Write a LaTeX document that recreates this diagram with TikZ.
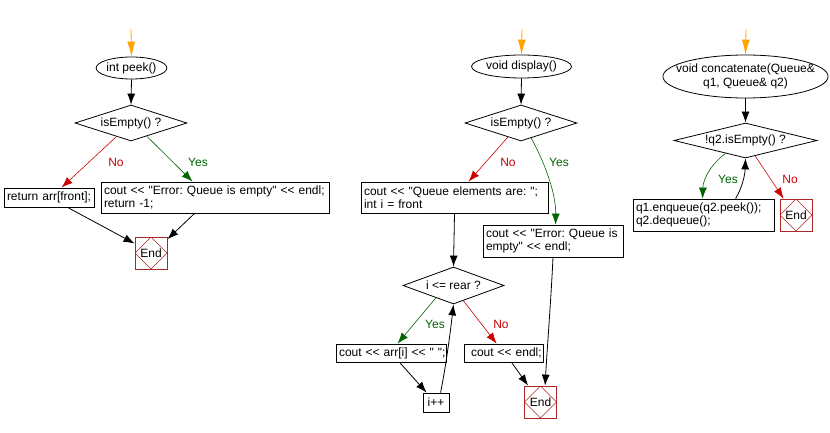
\documentclass[tikz,border=0pt]{standalone}
\usepackage{fontspec}
\setmainfont{Liberation Sans}[Ligatures=TeXOff]
\usetikzlibrary{shapes.geometric,arrows.meta}
\definecolor{flowor}{RGB}{255,165,0}
\definecolor{nored}{RGB}{204,0,0}
\definecolor{yesgreen}{RGB}{0,100,0}
\definecolor{endred}{RGB}{170,40,40}
\tikzset{
  every node/.style={font=\fontsize{12}{13.5}\selectfont\frenchspacing},
  term/.style={ellipse, draw, line width=0.8pt, inner sep=0pt, align=center},
  cond/.style={diamond, draw, line width=0.8pt, inner sep=0pt},
  proc/.style={rectangle, draw, line width=0.8pt, inner xsep=3pt, inner ysep=0pt, align=left},
  endnode/.style={rectangle, draw=endred, line width=0.8pt, minimum width=32pt, minimum height=32pt, inner sep=0pt,
    path picture={\draw[endred, line width=0.5pt] (path picture bounding box.north) -- (path picture bounding box.east) -- (path picture bounding box.south) -- (path picture bounding box.west) -- cycle;}},
  flow/.style={draw, line width=0.8pt, -{Latex[length=11pt,width=8pt]}},
  startflow/.style={flow, draw=flowor, -{Latex[length=15pt,width=8pt]}},
  noflow/.style={flow, draw=nored, line width=0.6pt},
  yesflow/.style={flow, draw=yesgreen, line width=0.6pt},
  nolbl/.style={text=nored},
  yeslbl/.style={text=yesgreen}
}
\begin{document}
\begin{tikzpicture}[x=1pt,y=-1pt]
\useasboundingbox[fill=white] (0,0) rectangle (830,433);

% ---------- peek ----------
\coordinate (s1) at (131,29);
\node[term, minimum width=65pt, minimum height=22pt] (p0) at (131.5,68) {int peek()};
\node[cond, shape aspect=3.1, minimum width=112pt, minimum height=36pt] (pd) at (131,123) {isEmpty() ?};
\node[proc, text width=84pt, minimum height=19pt] (pr) at (49,197.5) {\mbox{return arr[front];}};
\node[proc, text width=222pt, minimum height=31pt] (pc) at (215,197.5) {\mbox{cout << "Error: Queue is empty" << endl;}\\\mbox{return -1;}};
\node[endnode] (pe) at (151,253) {End};
\node[nolbl] (pno) at (116,162) {No};
\node[yeslbl] (pyes) at (198,162) {Yes};

\draw[startflow] (s1) -- (p0.north);
\draw[flow] (p0.south) -- (pd.north);
\draw[noflow] (pd.223) -- ([xshift=58pt]pr.north west);
\draw[yesflow] (pd.320) -- ([xshift=92pt]pc.north west);
\draw[flow] ([xshift=64pt]pr.south west) -- (pe.150);
\draw[flow] ([xshift=94pt]pc.south west) -- (pe.40);

% ---------- display ----------
\coordinate (s2) at (522,29);
\node[term, minimum width=89pt, minimum height=23pt] (d0) at (521.5,66.5) {void display()};
\node[cond, shape aspect=3.1, minimum width=112pt, minimum height=36pt] (dd) at (521,123) {isEmpty() ?};
\node[proc, text width=181pt, minimum height=31pt] (db1) at (454.5,197.5) {\mbox{cout << "Queue elements are: ";}\\\mbox{int i = front}};
\node[proc, text width=134pt, minimum height=32pt] (db2) at (553,241) {\mbox{cout << "Error: Queue is}\\\mbox{empty" << endl;}};
\node[cond, shape aspect=2.73, minimum width=101pt, minimum height=37pt] (dd2) at (453.5,285.5) {i <= rear ?};
\node[proc, text width=104pt, minimum height=18pt] (db3) at (391,353) {\mbox{cout << arr[i] << " ";}};
\node[proc, text width=73pt, minimum height=18pt] (db4) at (503.5,353) {\mbox{\hspace{4pt}cout << endl;}};
\node[proc, align=center, minimum width=26pt, minimum height=19pt] (db5) at (436,402.5) {i++};
\node[endnode] (de) at (540.5,402) {End};
\node[nolbl] (dno) at (508,162) {No};
\node[yeslbl] (dyes) at (559,162) {Yes};
\node[yeslbl] (dyes2) at (435,324) {Yes};
\node[nolbl] (dno2) at (501,324) {No};

\draw[startflow] (s2) -- (d0.north);
\draw[flow] (d0.south) -- (dd.north);
\draw[noflow] (dd.227) -- ([xshift=108pt]db1.north west);
\draw[yesflow] (dd.304) .. controls (546,165) and (556,195) .. ([xshift=73pt]db2.north west);
\draw[flow] (db1.south) -- (dd2.north);
\draw[yesflow] (dd2.215) -- ([xshift=62pt]db3.north west);
\draw[noflow] (dd2.303) -- ([xshift=33pt]db4.north west);
\draw[flow] ([xshift=64pt]db3.south west) -- ([xshift=4pt]db5.north west);
\draw[flow] ([xshift=18pt]db5.north west) .. controls (446,365) and (450,335) .. (dd2.south);
\draw[flow] ([xshift=48pt]db4.south west) -- ([xshift=4pt]de.north west);
\draw[flow] (db2.south) .. controls (551,300) and (547,350) .. ([xshift=21pt]de.north west);

% ---------- concatenate ----------
\coordinate (s3) at (746,29);
\node[term, inner xsep=-11pt, minimum width=165pt, minimum height=43pt] (c0) at (745.5,76.5) {void concatenate(Queue\&\\q1, Queue\& q2)};
\node[cond, shape aspect=4.1, minimum width=143pt, minimum height=35pt] (cd) at (745.5,140.5) {!q2.isEmpty() ?};
\node[proc, text width=135pt, minimum height=32pt] (cb) at (703.5,215) {\mbox{q1.enqueue(q2.peek());}\\\mbox{q2.dequeue();}};
\node[endnode] (ce) at (796,215) {End};
\node[yeslbl] (cyes) at (728,179) {Yes};
\node[nolbl] (cno) at (790,179) {No};

\draw[startflow] (s3) -- (c0.north);
\draw[flow] (c0.south) -- (cd.north);
\draw[yesflow] (cd.213) .. controls (710,165) and (703,180) .. ([xshift=70pt]cb.north west);
\draw[flow] ([xshift=103pt]cb.north west) .. controls (742,188) and (745,175) .. (cd.south);
\draw[noflow] (cd.302) -- ([xshift=4pt]ce.north west);
\end{tikzpicture}
\end{document}
